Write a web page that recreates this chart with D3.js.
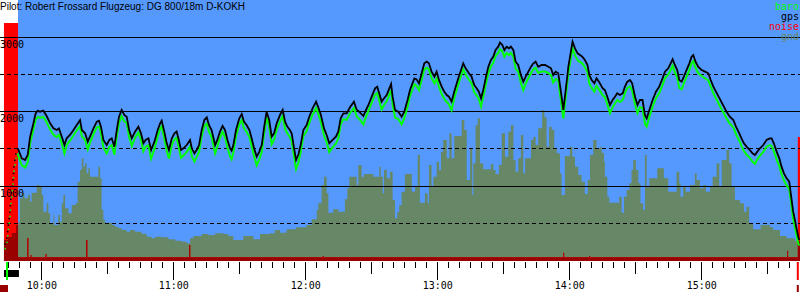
<!DOCTYPE html>
<html><head><meta charset="utf-8">
<script src="https://cdn.jsdelivr.net/npm/d3@7"></script>
<style>html,body{margin:0;padding:0;background:#fff;}svg{display:block;}</style>
</head><body>
<svg id="c" width="800" height="300"></svg>
<script>
// ---- data (time in minutes since midnight, altitude in metres) ----
const titleText = "Pilot: Robert Frossard Flugzeug: DG 800/18m D-KOKH";
const legendItems = ["baro", "gps", "noise", "gnd"];
const altGridValues = [500, 1000, 1500, 2000, 2500, 3000];
const altLabelValues = [1000, 2000, 3000];
const hourTicks = [600, 660, 720, 780, 840, 900];
const hourLabels = ["10:00", "11:00", "12:00", "13:00", "14:00", "15:00"];
const timeDomain = [581.2, 944.9];
const takeoffTime = 584.4;
const landingTime = 943.9;
const engineRun = [583.0, 589.8];

// [minute, gps altitude, baro altitude]
const track = [
[583.5,208,150],[584.4,316,250],[585.1,504,430],[585.7,652,580],[586.2,853,780],[587.1,1082,1010],[587.6,1284,1210],[588.5,1445,1370],[589.2,1512,1440],
[589.6,1485,1400],[591.1,1373,1280],[592.6,1351,1250],[593.8,1418,1320],[594.9,1664,1580],[596.4,1844,1760],[597.4,1978,1890],[598.4,2014,1930],[599.4,2000,1920],[600.9,2014,1930],
[602.4,1942,1860],[604.0,1844,1760],[605.5,1776,1690],[607.0,1754,1660],[608.0,1776,1690],[609.3,1664,1570],[610.5,1552,1440],[611.5,1642,1550],[613.0,1687,1610],[614.6,1754,1680],
[616.1,1821,1750],[617.6,1888,1810],[618.4,1754,1670],[619.9,1709,1620],[621.1,1597,1490],[622.1,1664,1580],[623.7,1776,1700],[625.2,1866,1790],[626.2,1879,1800],[627.1,1799,1710],
[628.2,1620,1520],[629.7,1552,1440],[630.9,1620,1530],[632.0,1642,1550],[633.2,1530,1420],[634.3,1754,1670],[635.3,1933,1850],[636.5,2023,1940],[637.7,1956,1870],[638.8,1933,1850],
[639.9,1754,1660],[641.1,1642,1540],[642.6,1732,1650],[644.1,1799,1720],[645.3,1709,1620],[646.4,1575,1470],[647.4,1620,1530],[648.7,1642,1550],[649.9,1485,1370],[651.4,1597,1500],
[652.9,1754,1670],[654.0,1844,1770],[654.7,1879,1800],[655.9,1732,1640],[657.0,1575,1470],[658.0,1485,1370],[659.3,1642,1550],[660.5,1709,1630],[661.5,1732,1650],[662.3,1642,1550],
[663.5,1485,1380],[664.6,1508,1410],[666.1,1552,1460],[667.6,1620,1530],[668.4,1508,1400],[669.6,1440,1330],[670.6,1485,1390],[671.7,1552,1460],[672.9,1754,1670],[674.1,1888,1810],
[675.2,1924,1840],[676.2,1821,1730],[677.4,1754,1660],
[679.0,1552,1440],[680.0,1620,1530],[681.2,1732,1650],[682.4,1808,1730],[683.5,1754,1660],[684.6,1620,1520],[685.8,1508,1400],[686.5,1476,1360],[687.3,1552,1450],[688.5,1754,1670],
[690.0,1911,1830],[691.1,1969,1890],[692.1,1866,1780],[693.3,1821,1730],[694.6,1754,1660],[695.6,1642,1540],[696.7,1508,1400],[697.9,1396,1280],[699.1,1463,1360],[700.2,1552,1460],
[701.2,1776,1690],[702.4,2000,1920],[703.6,1888,1800],[704.7,1664,1560],[705.8,1709,1620],[707.0,1844,1760],[708.5,1956,1870],[709.7,2023,1940],[710.8,1866,1770],[711.8,1799,1710],
[713.0,1754,1660],[713.8,1709,1610],[714.9,1508,1400],[715.8,1351,1230],[716.8,1418,1310],[717.9,1552,1460],[719.1,1754,1670],[720.6,1821,1740],[721.8,1933,1850],[723.3,2045,1960],
[724.9,2135,2050],[725.9,2059,1970],[727.1,1956,1860],[728.5,1776,1680],[729.7,1687,1590],[730.9,1575,1460],[732.4,1620,1520],[733.9,1664,1570],[735.0,1732,1640],[736.1,1911,1830],
[737.3,1978,1900],[738.8,1978,1890],[740.3,2059,1980],[742.1,2135,2050],[743.3,2032,1940],[744.9,1987,1890],[746.4,1942,1830],[747.6,2023,1930],[748.7,2090,2010],[750.2,2202,2120],
[751.7,2314,2230],[752.7,2336,2250],[753.6,2247,2150],[754.7,2135,2030],[755.8,2180,2090],[757.0,2224,2140],[758.2,2314,2230],[759.0,2372,2290],[759.7,2202,2100],[760.8,2023,1920],
[762.3,2000,1900],[763.8,1933,1830],[765.0,2000,1910],
[766.5,2157,2070],[767.6,2292,2210],[768.7,2381,2300],[769.6,2448,2370],[770.6,2435,2350],[771.7,2381,2290],[772.9,2516,2430],[774.1,2650,2570],[775.2,2672,2590],[776.2,2650,2570],
[777.4,2538,2450],[778.7,2471,2380],[779.7,2538,2450],[780.8,2426,2330],[782.0,2336,2240],[783.2,2269,2170],[784.3,2224,2130],[785.3,2202,2100],[786.5,2135,2020],[787.7,2269,2180],
[789.3,2426,2340],[790.8,2560,2480],[791.8,2650,2570],[792.9,2583,2500],[794.4,2516,2430],[795.6,2471,2380],[796.8,2359,2260],[797.9,2314,2220],[798.9,2269,2170],[799.9,2180,2070],
[800.9,2292,2200],[802.0,2448,2360],[803.2,2605,2520],[804.4,2695,2610],[805.5,2740,2660],[806.5,2829,2750],[807.7,2874,2790],[808.5,2928,2840],[809.6,2896,2810],[810.5,2829,2740],
[811.5,2874,2790],[812.6,2852,2760],[813.5,2874,2790],[814.6,2829,2740],[815.6,2672,2580],[816.8,2628,2540],[818.0,2493,2390],[819.1,2404,2290],[820.2,2471,2380],[821.4,2538,2450],
[822.6,2605,2520],[823.7,2650,2570],[824.7,2672,2590],[825.9,2605,2520],[827.4,2628,2540],[829.0,2628,2540],[830.5,2605,2520],[831.7,2583,2490],[832.7,2493,2390],[833.8,2538,2440],
[835.0,2516,2420],[836.2,2269,2160],[837.3,2023,1910],[838.4,2292,2200],[839.6,2605,2520],[840.6,2784,2700],[841.5,2941,2850],[842.6,2852,2760],[843.8,2784,2690],[844.9,2762,2670],
[845.9,2740,2650],[847.1,2695,2600],[848.3,2628,2530],[849.1,2493,2380],[850.2,2426,2320],[851.4,2381,2270],[852.4,2448,2350],[853.5,2404,2300],
[855.2,2314,2220],[856.2,2292,2200],[857.3,2202,2100],[858.5,2090,1980],[859.7,2157,2060],[860.8,2202,2110],[861.8,2247,2160],[863.0,2224,2130],[864.3,2247,2160],[865.3,2336,2250],
[866.4,2404,2320],[867.6,2426,2340],[868.6,2381,2280],[869.9,2202,2100],[871.0,2090,1980],[872.1,2157,2060],[873.3,2157,2050],[874.4,1956,1840],[875.2,1911,1800],[876.4,2023,1930],
[877.9,2157,2070],[879.4,2269,2180],[880.9,2336,2250],[882.4,2448,2360],[883.5,2538,2450],[885.0,2583,2500],[886.1,2650,2560],[887.0,2704,2620],[888.0,2628,2530],[889.1,2560,2460],
[890.0,2426,2320],[891.1,2404,2300],[892.1,2471,2380],[893.3,2560,2470],[894.6,2650,2560],[895.6,2740,2650],[896.4,2762,2680],[897.4,2672,2590],[898.6,2605,2520],[900.2,2560,2480],
[901.7,2538,2450],[903.2,2516,2420],[904.3,2426,2340],[905.5,2336,2250],[906.7,2269,2180],[907.9,2202,2110],[909.1,2135,2040],[910.3,2068,1980],[911.5,2000,1910],[913.0,1933,1840],
[914.6,1888,1790],[915.8,1799,1700],[917.3,1709,1610],[918.3,1642,1540],[919.4,1575,1470],[920.6,1530,1420],[922.1,1485,1380],[923.3,1440,1330],[924.4,1418,1300],[925.5,1463,1360],
[926.7,1508,1410],[928.2,1552,1460],[929.7,1620,1530],[931.2,1642,1550],[932.0,1642,1540],[933.0,1575,1470],[934.3,1463,1360],[935.5,1373,1270],[936.5,1261,1160],[937.6,1172,1080],
[938.8,1104,1010],[940.0,1060,960],[941.1,813,720],[941.8,656,560],[942.6,544,450],[943.3,432,340],[944.1,320,230],[944.6,276,200]
];

// [minute, ground elevation]
const ground = [
[583.0,276],[584.8,316],[586.6,370],[588.5,477],[589.6,522],[590.3,836],[591.4,903],[592.3,836],[593.8,880],[594.9,791],[595.6,912],[597.9,1015],[599.0,992],[600.2,880],[600.9,656],
[602.4,768],[603.2,634],[604.0,500],[605.5,612],[605.9,477],[607.7,612],[608.5,522],[609.3,768],[610.0,880],[610.8,701],[612.3,634],[613.8,746],[615.6,768],[616.5,1060],[617.6,1216],
[618.4,1373],[619.1,1261],[619.9,1306],[620.6,1172],[621.4,1239],[622.1,1127],[625.9,1261],[626.7,1104],[627.4,679],[628.2,544],[628.9,508],[632.0,477],[633.5,455],[635.0,432],[636.5,410],
[638.8,388],[640.3,410],[642.6,388],[645.6,356],[647.9,320],[650.2,298],[651.7,320],[654.7,311],[657.7,284],[660.8,267],[663.8,253],[666.1,231],[667.6,298],[669.1,329],[672.9,356],[675.9,343],
[679.0,365],[682.7,356],[685.0,329],[687.3,276],[691.8,329],[696.4,284],[699.4,356],[703.9,365],[706.2,410],[708.5,374],[711.5,419],[715.8,446],[720.6,477],[722.9,553],[725.2,679],
[725.9,768],[727.4,1015],[728.5,1127],[729.7,903],[730.5,643],[732.7,688],[735.0,656],[738.0,822],[739.1,970],[740.0,1127],[743.3,1015],[744.1,1284],[745.6,1127],[746.7,1163],[750.9,1127],
[753.6,1261],[754.3,1127],[755.2,903],[755.8,1216],[757.0,1104],[758.5,1194],[759.7,813],[760.8,567],[761.8,656],[762.7,746],[763.8,925],[765.3,1163],
[768.4,925],[769.9,992],[771.1,1418],[772.1,777],[774.4,903],[775.6,768],[776.2,1284],[777.4,992],[778.2,1127],[779.7,1328],[780.8,1216],[781.7,1463],[782.7,1620],[784.3,1373],[785.5,1709],
[786.5,1373],[787.7,1673],[791.1,1888],[792.3,1754],[793.4,1082],[794.9,1508],[795.9,880],[796.4,1306],[797.4,1821],[798.4,1911],[799.4,1306],[800.9,1225],[804.4,1297],[805.5,1216],[806.5,1163],
[808.0,1284],[809.3,1709],[810.8,1396],[812.3,1732],[813.5,1821],[814.6,1351],[815.6,1194],[816.8,1373],[818.0,1687],[819.1,1172],[819.9,1373],[822.6,1620],[823.7,1664],[824.7,1552],[825.9,1776],
[827.7,2023],[828.7,1924],[829.7,1530],[830.8,1799],[832.0,1754],[833.2,1508],[834.3,1440],[835.8,1172],[836.5,880],[838.0,1404],[840.3,1530],[841.4,1396],[842.6,1261],[844.1,1149],[845.6,1060],
[847.1,894],[848.4,1082],[849.4,1418],[850.9,1620],[852.4,1508],
[854.0,1530],[854.7,1449],[855.8,1328],[856.2,1127],[857.3,858],[858.2,777],[862.7,858],[863.8,643],[864.9,858],[866.1,948],[867.3,1037],[868.3,1216],[869.1,1351],[870.3,1216],[871.4,1037],
[872.4,768],[873.6,679],[874.4,1418],[875.2,992],[876.4,1104],[880.0,1239],[883.0,1104],[885.0,925],[888.8,1194],[890.0,1037],[890.6,858],[891.8,992],[893.0,925],[894.9,1015],[897.1,1172],
[897.9,1082],[899.4,970],[900.9,1015],[902.1,925],[904.0,992],[905.2,1127],[907.0,1306],[908.2,992],[909.3,1351],[911.5,1485],[912.7,1306],[913.8,992],[915.3,813],[917.6,768],[919.4,656],
[920.6,723],[921.8,500],[923.6,419],[927.0,477],[931.2,446],[932.7,410],[935.8,329],[938.8,298],[942.6,267],[944.9,267]
];

// [minute, engine noise level 0..1000]
const noise = [
[583.0,1000],[589.4,16],[593.6,97],[594.1,16],[595.1,25],[595.5,16],[601.9,29],[602.3,16],[620.4,88],[620.9,16],
[667.2,67],[667.7,16],[727.9,21],[728.3,16],[837.3,35],[837.7,16],[849.1,21],[849.5,16],[939.1,43],[939.5,16],[943.9,521],[944.6,521],[944.9,521]
];

// ---- drawing ----
const C = {blue:"#5599ff", gnd:"#668866", red:"#ff0000", dark:"#990000", baro:"#00ff00", gps:"#000000"};
const svg = d3.select("#c");
const x = d3.scaleLinear().domain(timeDomain).range([0, 800]);
const y = d3.scaleLinear().domain([0, 3000]).range([260.5, 37.3]);
const yn = d3.scaleLinear().domain([0, 1000]).range([261, 23]);

svg.append("rect").attr("x", 18).attr("y", 0).attr("width", 782).attr("height", 261).attr("fill", C.blue);

const gArea = d3.area().curve(d3.curveStepAfter).x(d => x(d[0])).y0(261).y1(d => y(d[1]));
const nArea = d3.area().curve(d3.curveStepAfter).x(d => x(d[0])).y0(261).y1(d => yn(d[1]));

svg.append("path").datum(ground).attr("d", gArea).attr("fill", C.gnd);
svg.append("defs").append("clipPath").attr("id", "nclip").append("path").datum(noise).attr("d", nArea);
svg.append("path").datum(noise).attr("d", nArea).attr("fill", C.red);
svg.append("path").datum(ground).attr("d", gArea).attr("fill", C.dark).attr("clip-path", "url(#nclip)");

// grid
svg.append("g").selectAll("line").data(altGridValues).join("line")
  .attr("x1", 0).attr("x2", 800)
  .attr("y1", d => Math.floor(y(d)) + 0.5).attr("y2", d => Math.floor(y(d)) + 0.5)
  .attr("stroke", "#000").attr("stroke-width", 1)
  .attr("stroke-dasharray", d => d % 1000 === 0 ? null : "4,3")
  .attr("shape-rendering", "crispEdges");

svg.append("g").selectAll("text").data(altLabelValues).join("text")
  .attr("x", 0).attr("y", d => Math.floor(y(d)) + 10.5)
  .attr("font-family", "DejaVu Sans Mono, monospace").attr("font-size", 10).attr("fill", "#000")
  .text(d => d);

// traces: the engine climb (sparse fixes) is dotted, the glide solid
const climb = track.filter(d => d[0] <= engineRun[1] - 0.5);
const glide = track.filter(d => d[0] >= climb[climb.length - 1][0]);
const baroLine = d3.line().x(d => x(d[0])).y(d => y(d[2]));
const gpsLine = d3.line().x(d => x(d[0])).y(d => y(d[1]));
svg.append("path").datum(climb).attr("d", baroLine).attr("fill", "none").attr("stroke", C.baro).attr("stroke-width", 1.5).attr("stroke-dasharray", "1.5,5");
svg.append("path").datum(climb).attr("d", gpsLine).attr("fill", "none").attr("stroke", C.gps).attr("stroke-width", 1.5).attr("stroke-dasharray", "1.5,5");
svg.append("path").datum(glide).attr("d", baroLine).attr("fill", "none").attr("stroke", C.baro).attr("stroke-width", 2);
svg.append("path").datum(glide).attr("d", gpsLine).attr("fill", "none").attr("stroke", C.gps).attr("stroke-width", 1.8);

// title
svg.append("text").attr("x", 0).attr("y", 10).attr("font-family", "Liberation Sans, Arial, sans-serif")
  .attr("font-size", 10).attr("fill", "#000").text(titleText);

// legend
const legendColors = [C.baro, C.gps, C.red, C.gnd];
svg.append("g").selectAll("text").data(legendItems).join("text")
  .attr("x", 799).attr("y", (d, i) => 10 + i * 10).attr("text-anchor", "end")
  .attr("font-family", "DejaVu Sans Mono, monospace").attr("font-size", 10)
  .attr("fill", (d, i) => legendColors[i]).text(d => d);

// time axis
const allTicks = d3.range(585, 945, 5);
const halfTicks = allTicks.filter(m => m % 60 === 30);
const minorTicks = allTicks.filter(m => m % 30 !== 0);
function axisG(vals, size, labels) {
  const a = d3.axisBottom(x).tickValues(vals).tickSize(size).tickPadding(2)
    .tickFormat(labels ? ((d, i) => labels[i]) : () => "");
  const g = svg.append("g").attr("transform", "translate(0,262)").call(a);
  g.select(".domain").remove();
  g.selectAll("line").attr("stroke", "#000").attr("shape-rendering", "crispEdges");
  g.selectAll("text").attr("font-family", "DejaVu Sans Mono, monospace").attr("font-size", 10).attr("fill", "#000");
  return g;
}
axisG(minorTicks, 6, null);
axisG(halfTicks, 12, null);
axisG(hourTicks, 18, hourLabels);

// markers
svg.append("rect").attr("x", x(engineRun[0])).attr("y", 270).attr("width", x(engineRun[1]) - x(engineRun[0])).attr("height", 7).attr("fill", "#000");
svg.append("rect").attr("x", x(takeoffTime) - 1).attr("y", 262).attr("width", 2).attr("height", 18).attr("fill", C.baro);
svg.append("rect").attr("x", 0).attr("y", 285).attr("width", 8).attr("height", 7).attr("fill", C.dark);
svg.append("rect").attr("x", x(landingTime) - 1).attr("y", 262).attr("width", 2).attr("height", 18).attr("fill", C.red);
svg.append("rect").attr("x", x(landingTime) - 1).attr("y", 285).attr("width", 2).attr("height", 7).attr("fill", C.dark);
</script>
</body></html>
